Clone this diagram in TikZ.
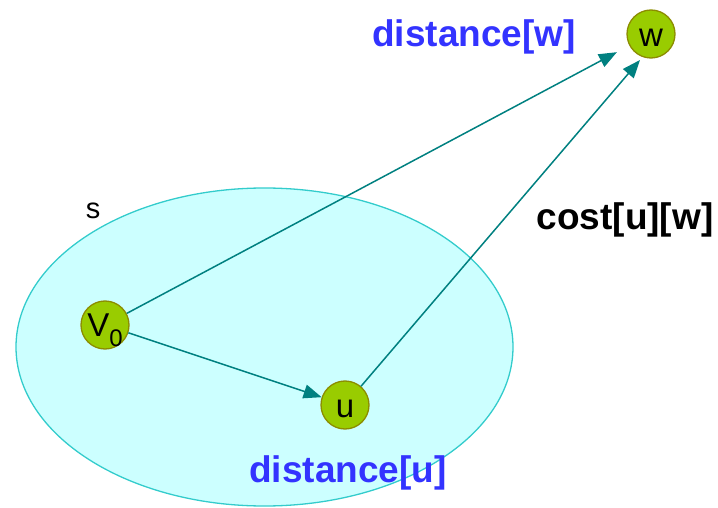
\documentclass[tikz,border=0pt]{standalone}
\usepackage{fontspec}
\setmainfont{Liberation Sans}
\usetikzlibrary{arrows.meta,shapes.geometric}
\definecolor{setfill}{HTML}{CCFFFF}
\definecolor{setline}{HTML}{33CCCC}
\definecolor{vfill}{HTML}{99CC00}
\definecolor{vline}{HTML}{8C8C00}
\definecolor{edge}{HTML}{008080}
\definecolor{lblue}{HTML}{3333FF}
\tikzset{
  vertex/.style={circle, fill=vfill, draw=vline, line width=1.3pt, minimum size=48pt, inner sep=0pt, font=\fontsize{33}{35}\selectfont},
  edgearrow/.style={draw=edge, line width=1.5pt, -{Triangle[length=18pt,width=14pt]}},
  biglabel/.style={font=\fontsize{37}{40}\selectfont\bfseries, inner sep=0pt}
}
\begin{document}
\begin{tikzpicture}[x=1pt,y=-1pt]
\useasboundingbox (0,0) rectangle (718,508);
\node[draw=setline, fill=setfill, line width=1.3pt, ellipse, minimum width=497pt, minimum height=318pt, inner sep=0pt] (S) at (264.5,347) {};
\node[font=\fontsize{29}{31}\selectfont, inner sep=0pt] (s) at (93,211) {s};
\node[vertex] (v0) at (105,325) {\hspace*{-8pt}V\smash{\raisebox{-10pt}{\fontsize{24}{26}\selectfont 0}}\hspace*{-8pt}};
\node[vertex] (u) at (345,405) {\raisebox{-4pt}[17pt][0pt]{u}};
\node[vertex] (w) at (651,34) {\raisebox{-4pt}[17pt][0pt]{w}};
\coordinate (wt) at (640,60);
\draw[edgearrow, shorten >=14pt] (v0) -- (w);
\draw[edgearrow] (v0) -- (u);
\draw[edgearrow] (u) -- (wt);
\node[biglabel, text=lblue] (dw) at (474,37) {distance[w]};
\node[biglabel] (cost) at (625,220) {cost[u][w]};
\node[biglabel, text=lblue] (du) at (348,473) {distance[u]};
\end{tikzpicture}
\end{document}
